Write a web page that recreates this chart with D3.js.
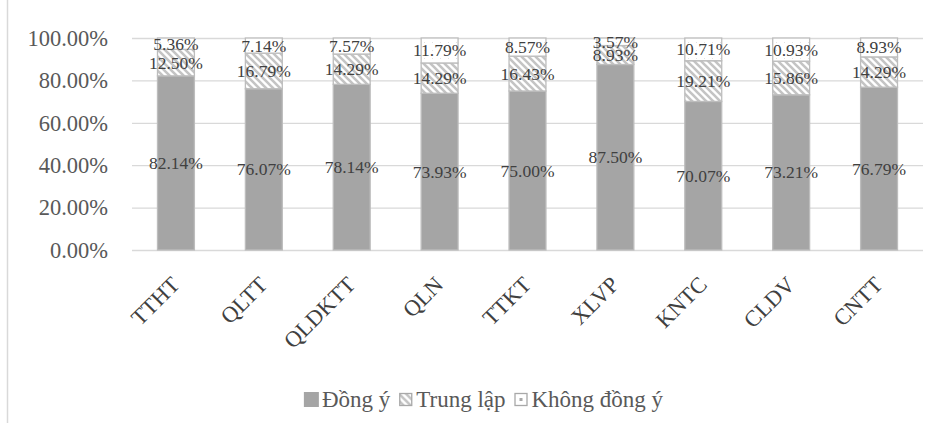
<!DOCTYPE html>
<html>
<head>
<meta charset="utf-8">
<script src="https://cdn.jsdelivr.net/npm/d3@7"></script>
<style>
  body { margin: 0; background: #fff; }
  svg { display: block; }
</style>
</head>
<body>
<svg id="chart" width="942" height="423"></svg>
<script>
// Survey answers per service area (percent of respondents)
const categories = ["TTHT", "QLTT", "QLDKTT", "QLN", "TTKT", "XLVP", "KNTC", "CLDV", "CNTT"];
const dongY      = [82.14, 76.07, 78.14, 73.93, 75.00, 87.50, 70.07, 73.21, 76.79];
const trungLap   = [12.50, 16.79, 14.29, 14.29, 16.43, 8.93, 19.21, 15.86, 14.29];
const khongDongY = [5.36, 7.14, 7.57, 11.79, 8.57, 3.57, 10.71, 10.93, 8.93];
const seriesNames = ["Đồng ý", "Trung lập", "Không đồng ý"];
const yTicks = [0, 20, 40, 60, 80, 100];

const FONT = "'Liberation Serif', 'Times New Roman', serif";
const W = 942, H = 423;
const margin = { top: 38, right: 19, bottom: 173, left: 132 };
const innerW = W - margin.left - margin.right;
const innerH = H - margin.top - margin.bottom;

const svg = d3.select("#chart").style("font-family", FONT);
const fmt = v => d3.format(".2f")(v) + "%";

// Fill patterns for the neutral and disagree series
const defs = svg.append("defs");
const diag = defs.append("pattern")
  .attr("id", "diag").attr("patternUnits", "userSpaceOnUse")
  .attr("width", 7).attr("height", 7);
diag.append("rect").attr("width", 7).attr("height", 7).attr("fill", "#fff");
diag.append("path")
  .attr("d", "M-2,-2 L9,9 M-2,5 L2,9 M5,-2 L9,2")
  .attr("stroke", "#c4c4c4").attr("stroke-width", 2.6);

const dots = defs.append("pattern")
  .attr("id", "dots").attr("patternUnits", "userSpaceOnUse")
  .attr("width", 8).attr("height", 8);
dots.append("rect").attr("width", 8).attr("height", 8).attr("fill", "#fff");
dots.append("rect").attr("x", 4).attr("y", 4).attr("width", 1).attr("height", 1).attr("fill", "#e2e2e2");

const fills = ["#a5a5a5", "url(#diag)", "url(#dots)"];

// Chart frame edge
svg.append("line")
  .attr("x1", 7.5).attr("x2", 7.5).attr("y1", 0).attr("y2", H)
  .attr("stroke", "#d9d9d9").attr("stroke-width", 1.5);

const g = svg.append("g").attr("transform", `translate(${margin.left},${margin.top})`);

const x = d3.scaleBand().domain(categories).range([0, innerW]).paddingInner(0.58).paddingOuter(0.29);
const y = d3.scaleLinear().domain([0, 100]).range([innerH, 0]);

// Y axis with gridlines
const yAxis = g.append("g")
  .call(d3.axisLeft(y).tickValues(yTicks).tickFormat(fmt).tickSize(-innerW).tickPadding(24));
yAxis.attr("font-family", null);
yAxis.select(".domain").remove();
yAxis.selectAll(".tick line").attr("stroke", "#d9d9d9").attr("stroke-width", 1.3);
yAxis.selectAll(".tick text")
  .attr("fill", "#595959").style("font-size", "22.5px").style("font-family", FONT);

// Stacked bars
const rows = categories.map((c, i) => ({ cat: c, s0: dongY[i], s1: trungLap[i], s2: khongDongY[i] }));
const stack = d3.stack().keys(["s0", "s1", "s2"]);
const layers = stack(rows);

const layerG = g.selectAll(".layer").data(layers).join("g")
  .attr("class", "layer")
  .attr("fill", (d, i) => fills[i]);

layerG.selectAll("rect").data(d => d).join("rect")
  .attr("x", d => x(d.data.cat))
  .attr("y", d => y(d[1]))
  .attr("width", x.bandwidth())
  .attr("height", d => y(d[0]) - y(d[1]))
  .attr("stroke", "#bdbdbd").attr("stroke-width", 1.3);

// Value labels centred in each segment
layers.forEach(layer => {
  g.append("g").selectAll("text").data(layer).join("text")
    .attr("x", d => x(d.data.cat) + x.bandwidth() / 2)
    .attr("y", d => y((d[0] + d[1]) / 2))
    .attr("text-anchor", "middle")
    .attr("dominant-baseline", "central")
    .attr("fill", "#404040")
    .style("font-family", FONT)
    .style("font-size", "17.5px")
    .text(d => fmt(d[1] - d[0]));
});

// Category labels, rotated
const xAxis = g.append("g").attr("transform", `translate(0,${innerH})`)
  .call(d3.axisBottom(x).tickSize(0).tickPadding(0));
xAxis.attr("font-family", null);
xAxis.select(".domain").remove();
xAxis.selectAll(".tick text")
  .attr("fill", "#404040")
  .style("font-size", "22.5px")
  .style("font-family", FONT)
  .attr("text-anchor", "end")
  .attr("dy", null)
  .attr("y", 0)
  .attr("transform", "translate(5,36) rotate(-45)");

// Legend
const legend = svg.append("g");
let lx = 0;
seriesNames.forEach((name, i) => {
  const it = legend.append("g");
  if (i === 0) {
    it.append("rect").attr("x", 0).attr("y", -15).attr("width", 15).attr("height", 15).attr("fill", fills[0]);
  } else {
    it.append("rect").attr("x", 1.5).attr("y", -13.5).attr("width", 12).attr("height", 12)
      .attr("fill", i === 1 ? "url(#diag)" : "#fff").attr("stroke", "#a8a8a8").attr("stroke-width", 1.3);
    if (i === 2) it.append("rect").attr("x", 6).attr("y", -9).attr("width", 3).attr("height", 3).attr("fill", "#a8a8a8");
  }
  const t = it.append("text").attr("x", 18).attr("y", 0)
    .attr("fill", "#595959").style("font-family", FONT).style("font-size", "23px").text(name);
  it.attr("transform", `translate(${lx},0)`);
  lx += 18 + t.node().getComputedTextLength() + 8;
});
const legendW = lx - 8;
legend.attr("transform", `translate(${483.5 - legendW / 2},407)`);
</script>
</body>
</html>
